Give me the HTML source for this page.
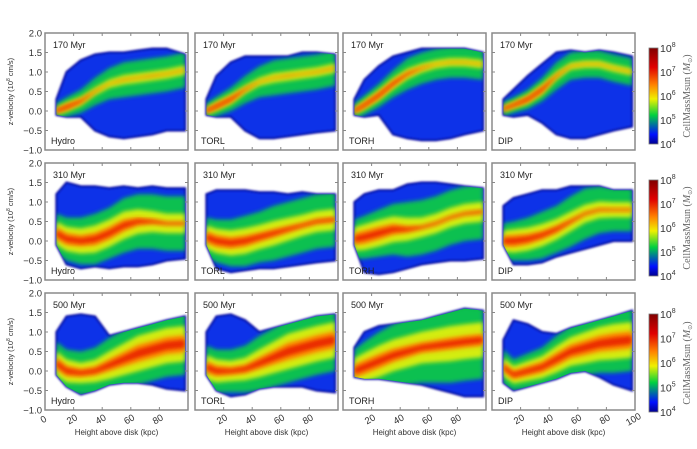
<!DOCTYPE html>
<html><head><meta charset="utf-8"><style>
body{margin:0;background:#fff;}
svg{display:block;font-family:"Liberation Sans",sans-serif;}
</style></head><body>
<svg id="fig" width="697" height="449" viewBox="0 0 697 449">
<defs>
<filter id="bl" x="-10%" y="-10%" width="120%" height="120%"><feGaussianBlur stdDeviation="2.2"/></filter>
<filter id="bl2" x="-10%" y="-10%" width="120%" height="120%"><feGaussianBlur stdDeviation="1"/></filter>
<linearGradient id="cbg" x1="0" y1="1" x2="0" y2="0">
<stop offset="0" stop-color="#000090"/><stop offset="0.1" stop-color="#0010ff"/><stop offset="0.3" stop-color="#00d040"/><stop offset="0.47" stop-color="#f0f000"/><stop offset="0.62" stop-color="#ff8000"/><stop offset="0.8" stop-color="#e00000"/><stop offset="1" stop-color="#800000"/>
</linearGradient>
</defs>
</svg>
<script>
const heights=[8,15,25,35,45,55,65,75,85,98];
const rowTimes=["170 Myr","310 Myr","500 Myr"];
const modelNames=["Hydro","TORL","TORH","DIP"];
const yTicks=[2.0,1.5,1.0,0.5,0.0,-0.5,-1.0];
const xTicks=[20,40,60,80];
const cbLabels=["4","5","6","7","8"];
// row 1 (170 Myr)
const upper1=[[0.3,1.0,1.3,1.45,1.5,1.5,1.55,1.6,1.6,1.45],[0.3,0.9,1.25,1.4,1.4,1.4,1.4,1.5,1.5,1.45],[0.3,0.8,1.15,1.4,1.5,1.6,1.6,1.6,1.6,1.5],[0.3,0.55,0.9,1.2,1.5,1.55,1.5,1.55,1.5,1.4]];
const lower1=[[-0.1,-0.15,-0.15,-0.5,-0.65,-0.7,-0.65,-0.6,-0.5,-0.5],[-0.1,-0.15,-0.15,-0.5,-0.7,-0.7,-0.65,-0.6,-0.55,-0.5],[-0.1,-0.15,-0.1,-0.6,-0.7,-0.75,-0.75,-0.7,-0.6,-0.5],[-0.1,-0.15,-0.1,-0.3,-0.6,-0.7,-0.7,-0.6,-0.5,-0.4]];
const ridge1=[[0.0,0.1,0.25,0.5,0.7,0.8,0.85,0.9,0.95,1.05],[0.0,0.12,0.3,0.55,0.75,0.85,0.9,0.95,1.0,1.1],[0.0,0.15,0.4,0.7,0.95,1.1,1.2,1.25,1.25,1.2],[0.05,0.15,0.3,0.55,0.9,1.15,1.2,1.2,1.1,1.0]];
const width1=[[0.2,0.25,0.3,0.35,0.4,0.45,0.45,0.45,0.45,0.45],[0.2,0.25,0.3,0.35,0.4,0.45,0.45,0.45,0.45,0.45],[0.2,0.25,0.3,0.35,0.4,0.4,0.4,0.4,0.4,0.4],[0.18,0.2,0.25,0.3,0.35,0.35,0.35,0.35,0.35,0.35]];
const hot1=[[1,1,0.6,0.2,0.1,0.1,0.1,0.1,0.1,0.1],[1,1,0.8,0.3,0.1,0.1,0.1,0.1,0.1,0.1],[1,1,0.9,0.7,0.4,0.2,0.1,0.1,0.1,0.1],[1,1,1,0.9,0.3,0.1,0.1,0.1,0.1,0.1]];
// row 2 (310 Myr)
const upper2=[[1.2,1.5,1.4,1.4,1.35,1.4,1.35,1.4,1.35,1.35],[1.2,1.3,1.3,1.3,1.25,1.25,1.2,1.25,1.2,1.2],[1.0,1.2,1.3,1.3,1.45,1.5,1.5,1.45,1.4,1.35],[0.9,1.1,1.2,1.3,1.3,1.4,1.4,1.4,1.3,1.3]];
const lower2=[[-0.1,-0.6,-0.7,-0.65,-0.7,-0.65,-0.65,-0.6,-0.5,-0.45],[-0.1,-0.7,-0.8,-0.75,-0.7,-0.7,-0.65,-0.6,-0.55,-0.5],[-0.1,-0.8,-0.85,-0.8,-0.7,-0.6,-0.55,-0.5,-0.5,-0.45],[-0.1,-0.6,-0.6,-0.55,-0.4,-0.3,-0.2,-0.1,0.0,0.0]];
const ridge2=[[0.2,0.05,0.0,0.05,0.2,0.4,0.5,0.5,0.45,0.45],[0.1,0.0,-0.05,0.0,0.1,0.2,0.3,0.4,0.5,0.55],[0.05,0.1,0.2,0.3,0.3,0.35,0.45,0.6,0.7,0.75],[0.0,0.0,0.05,0.15,0.3,0.5,0.7,0.8,0.8,0.8]];
const width2=[[0.5,0.55,0.6,0.65,0.65,0.7,0.7,0.7,0.7,0.7],[0.5,0.55,0.6,0.65,0.65,0.7,0.7,0.7,0.7,0.7],[0.5,0.55,0.6,0.65,0.7,0.7,0.7,0.7,0.7,0.7],[0.45,0.5,0.55,0.6,0.6,0.65,0.65,0.6,0.55,0.55]];
const hot2=[[1,0.9,0.8,0.8,0.8,0.7,0.5,0.3,0.2,0.2],[1,0.9,0.8,0.7,0.6,0.5,0.4,0.3,0.3,0.3],[1,1,0.9,0.7,0.4,0.2,0.2,0.2,0.2,0.2],[1,1,0.8,0.6,0.5,0.3,0.2,0.2,0.2,0.2]];
// row 3 (500 Myr)
const upper3=[[1.0,1.4,1.45,1.4,0.9,1.0,1.1,1.2,1.3,1.4],[1.0,1.4,1.45,1.3,1.0,1.1,1.2,1.3,1.4,1.45],[0.6,1.0,1.15,1.2,1.25,1.3,1.4,1.5,1.6,1.55],[0.8,1.3,1.2,1.0,0.95,1.1,1.2,1.3,1.4,1.55]];
const lower3=[[-0.1,-0.4,-0.6,-0.5,-0.35,-0.3,-0.3,-0.35,-0.45,-0.5],[-0.1,-0.5,-0.65,-0.6,-0.45,-0.4,-0.4,-0.4,-0.5,-0.55],[-0.15,-0.2,-0.2,-0.25,-0.3,-0.35,-0.45,-0.55,-0.65,-0.65],[-0.3,-0.5,-0.4,-0.3,-0.2,-0.05,0.0,-0.15,-0.35,-0.5]];
const ridge3=[[0.2,0.0,-0.05,0.0,0.15,0.3,0.45,0.55,0.65,0.7],[0.1,0.0,0.0,0.05,0.2,0.35,0.5,0.6,0.7,0.8],[0.0,0.1,0.25,0.4,0.5,0.6,0.65,0.7,0.75,0.8],[0.1,-0.1,0.0,0.1,0.3,0.5,0.6,0.7,0.75,0.8]];
const width3=[[0.55,0.55,0.55,0.6,0.7,0.75,0.8,0.8,0.8,0.8],[0.55,0.55,0.55,0.6,0.7,0.75,0.8,0.8,0.8,0.8],[0.55,0.65,0.75,0.8,0.85,0.9,0.95,1.0,1.0,1.0],[0.45,0.4,0.45,0.5,0.6,0.65,0.7,0.75,0.8,0.8]];
const hot3=[[0.9,0.8,0.6,0.6,0.7,0.8,0.9,0.9,0.9,0.9],[0.9,0.8,0.6,0.6,0.7,0.8,0.9,0.9,0.9,0.9],[1,0.9,0.8,0.7,0.6,0.5,0.5,0.5,0.5,0.5],[0.8,0.9,0.9,0.9,0.9,0.9,0.9,0.9,0.9,0.9]];

const rowsData=[[upper1,lower1,ridge1,width1,hot1],[upper2,lower2,ridge2,width2,hot2],[upper3,lower3,ridge3,width3,hot3]];
const NS="http://www.w3.org/2000/svg";
const svg=document.getElementById('fig');
const defs=svg.querySelector('defs');
const colX=[45,195,343,492], rowY=[33,163,293], PW=143, PH=117;
const cbY=[[48,144],[180,276],[314,412]];
function mk(tag,attrs,parent){const e=document.createElementNS(NS,tag);for(const k in attrs)e.setAttribute(k,attrs[k]);(parent||svg).appendChild(e);return e;}
function sx(c,k){return colX[c]+k*PW/100;}
function sy(r,v){return rowY[r]+(2-v)*PH/3;}
function band(c,r,top,bot){let p=[];for(let i=0;i<heights.length;i++)p.push(sx(c,heights[i]).toFixed(1)+','+sy(r,top[i]).toFixed(1));for(let i=heights.length-1;i>=0;i--)p.push(sx(c,heights[i]).toFixed(1)+','+sy(r,bot[i]).toFixed(1));return p.join(' ');}

for(let r=0;r<3;r++){
  const [U,L,R,W,H]=rowsData[r];
  for(let c=0;c<4;c++){
    const g=mk('g',{});
    
    
    const cid='clip'+r+c;
    const cp=mk('clipPath',{id:cid},defs);
    mk('polygon',{points:band(c,r,U[c],L[c])},cp);
    const env=mk('polygon',{points:band(c,r,U[c],L[c]),fill:'#0a30e8',stroke:'#0000a0','stroke-width':2,filter:'url(#bl2)'},g);
    
    
    const hg=mk('g',{'clip-path':'url(#'+cid+')'},g);
    const yf=r==0?0.5:0.6;
    const layers=[[1,'#10d040'],[yf,'#e0f010'],[0.32,'#ff8c00'],[0.15,'#e82000']];
    layers.forEach((ly,li)=>{
      const f=i=>W[c][i]*ly[0]*(li>=2?H[c][i]:(li==1?0.5+0.5*H[c][i]:1));
      const top=R[c].map((v,i)=>v+f(i));
      const bot=R[c].map((v,i)=>v-f(i));
      const b=mk('polygon',{points:band(c,r,top,bot),fill:ly[1],filter:'url(#bl)',opacity:li==0?0.9:0.95},hg);
      
      
    });
    const fr=mk('rect',{x:colX[c],y:rowY[r],width:PW,height:PH,fill:'none',stroke:'#8a8a8a','stroke-width':1.5},g);
    
    
    xTicks.forEach(k=>{const x=sx(c,k);mk('line',{x1:x,x2:x,y1:rowY[r],y2:rowY[r]+3,stroke:'#888'},g);mk('line',{x1:x,x2:x,y1:rowY[r]+PH,y2:rowY[r]+PH-3,stroke:'#888'},g);});
    yTicks.forEach(v=>{const y=sy(r,v);mk('line',{x1:colX[c],x2:colX[c]+3,y1:y,y2:y,stroke:'#888'},g);mk('line',{x1:colX[c]+PW,x2:colX[c]+PW-3,y1:y,y2:y,stroke:'#888'},g);});
    const t1=mk('text',{x:colX[c]+8,y:rowY[r]+15,'font-size':9,fill:'#222'},g);t1.textContent=rowTimes[r];
    
    
    const t2=mk('text',{x:colX[c]+6,y:rowY[r]+PH-6,'font-size':9,fill:'#222'},g);t2.textContent=modelNames[c];
    
    
  }
  yTicks.forEach(v=>{const t=mk('text',{x:42,y:sy(r,v)+3.5,'font-size':9.5,'text-anchor':'end',fill:'#333'});t.textContent=(v<0?'\u2212':'')+Math.abs(v).toFixed(1);
    
    });
  const yt=mk('text',{x:0,y:0,'font-size':7.5,'text-anchor':'middle',fill:'#333',transform:'translate(13,'+(rowY[r]+PH/2)+') rotate(-90)'});
  yt.innerHTML='z-velocity (10<tspan font-size="5" dy="-3">8</tspan><tspan dy="3"> cm/s)</tspan>';
  
  
  const [cy0,cy1]=cbY[r];
  const cb=mk('rect',{x:649,y:cy0,width:9,height:cy1-cy0,fill:'url(#cbg)',stroke:'#777','stroke-width':0.8});
  
  
  cbLabels.forEach((e,i)=>{const y=cy1-i*(cy1-cy0)/4;const t=mk('text',{x:660,y:y+4,'font-size':10.5,fill:'#333'});t.innerHTML='10<tspan font-size="7" dy="-5">'+e+'</tspan>';
    
    });
  const ct=mk('text',{x:0,y:0,'font-size':10,'text-anchor':'middle',fill:'#666','font-family':'Liberation Serif, serif',transform:'translate(690,'+((cy0+cy1)/2)+') rotate(-90)'});
  ct.innerHTML='CellMassMsun  (<tspan font-style="italic">M</tspan><tspan font-size="6" dy="2">\u2299</tspan><tspan dy="-2">)</tspan>';
  
  
}
for(let c=0;c<4;c++){
  let ks=xTicks.slice();
  if(c==0)ks=[0].concat(ks);
  if(c==3)ks=ks.concat([100]);
  ks.forEach(k=>{const x=sx(c,k),y=rowY[2]+PH+12;const t=mk('text',{x:0,y:0,'font-size':9.5,'text-anchor':'middle',fill:'#333',transform:'translate('+x+','+y+') rotate(-30)'});t.textContent=k;
    
    });
  const xt=mk('text',{x:colX[c]+PW/2,y:rowY[2]+PH+25,'font-size':8,'text-anchor':'middle',fill:'#333'});xt.textContent='Height above disk (kpc)';
  
  
}
</script>
</body></html>
